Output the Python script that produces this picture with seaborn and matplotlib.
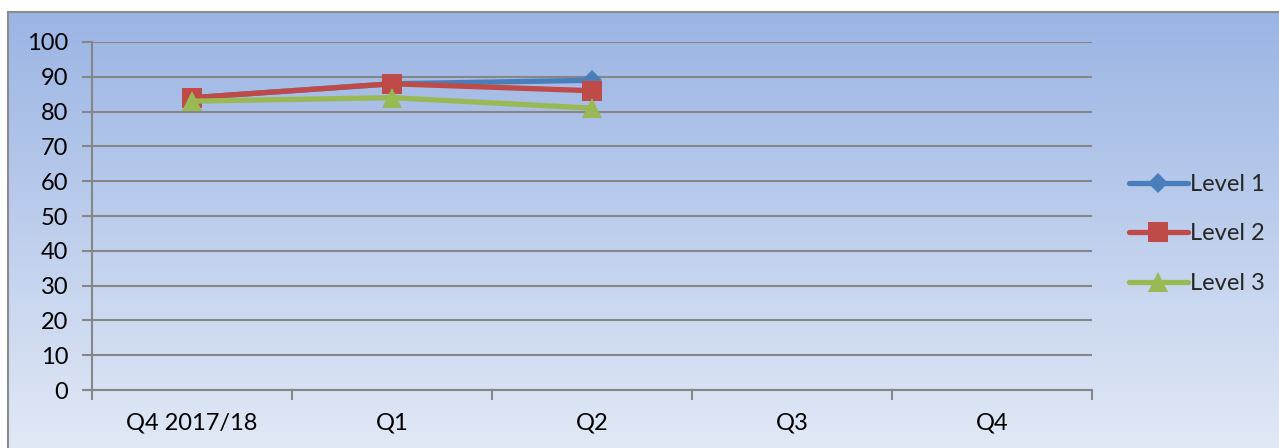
import numpy as np
import pandas as pd
import matplotlib
matplotlib.use("Agg")
import matplotlib.pyplot as plt
import seaborn as sns
from matplotlib.ticker import FixedLocator
from matplotlib.lines import Line2D

categories = ["Q4 2017/18", "Q1", "Q2", "Q3", "Q4"]
level1 = [84, 88, 89]
level2 = [84, 88, 86]
level3 = [83, 84, 81]
series_names = ["Level 1", "Level 2", "Level 3"]
y_ticks = [0, 10, 20, 30, 40, 50, 60, 70, 80, 90, 100]

rows = []
for name, vals in zip(series_names, [level1, level2, level3]):
    for i, v in enumerate(vals):
        rows.append({"Quarter": i, "Value": v, "Series": name})
df = pd.DataFrame(rows)

sns.set_theme(style="white")
plt.rcParams["font.family"] = ["Lato", "DejaVu Sans"]

W, H = 1279, 448
FS = 17
fig = plt.figure(figsize=(W / 100, H / 100), dpi=100)
fig.patch.set_facecolor("white")

# background frame with gradient (extends past right & bottom edges)
bg = fig.add_axes([8 / W, -3 / H, 1 - 8 / W + 3 / W, 1 - 12 / H + 3 / H])
grad = np.linspace(0, 1, 256).reshape(-1, 1)
top = np.array([0x9A, 0xB4, 0xE3]) / 255
bot = np.array([0xE2, 0xE9, 0xF6]) / 255
img = top + (bot - top) * grad[:, :, None]
bg.imshow(img, aspect="auto", extent=[0, 1, 0, 1])
bg.set_xlim(0, 1)
bg.set_ylim(0, 1)
bg.set_xticks([])
bg.set_yticks([])
for s in bg.spines.values():
    s.set_color("#8c8c8c")
    s.set_linewidth(1.5)
bg.set_zorder(0)

ax = fig.add_axes([92 / W, 1 - 390 / H, 1000 / W, (390 - 42) / H])
ax.set_zorder(1)
ax.patch.set_alpha(0)

palette = {"Level 1": "#4A7EBB", "Level 2": "#BE4B48", "Level 3": "#98B954"}
markers = {"Level 1": "D", "Level 2": "s", "Level 3": "^"}
msizes = {"D": 10, "s": 14, "^": 15}
sns.lineplot(data=df, x="Quarter", y="Value", hue="Series", style="Series",
             palette=palette, markers=markers, dashes=False, linewidth=3.8,
             markersize=13, markeredgewidth=0, ax=ax, legend=False, zorder=3)
for line in ax.lines:
    m = line.get_marker()
    if m in msizes:
        line.set_markersize(msizes[m])

ax.set_xlim(-0.5, 4.5)
ax.set_ylim(0, 100)
ax.set_yticks(y_ticks)
ax.set_yticklabels([str(t) for t in y_ticks])
ax.yaxis.grid(True, color="#868686", linewidth=1.5)
ax.set_axisbelow(True)

ax.xaxis.set_major_locator(FixedLocator(np.arange(-0.5, 5.0, 1.0)))
ax.set_xticklabels([])
ax.xaxis.set_minor_locator(FixedLocator(np.arange(len(categories))))
ax.set_xticklabels(categories, minor=True)
ax.tick_params(axis="x", which="major", length=7, width=1.5, color="#868686", direction="out", bottom=True)
ax.tick_params(axis="x", which="minor", length=0, labelsize=FS, pad=16, labelcolor="black")
ax.tick_params(axis="y", length=7, width=1.5, color="#868686", direction="out", left=True,
               labelsize=FS, pad=10, labelcolor="black")
ax.set_xlabel("")
ax.set_ylabel("")
for s in ["top", "right"]:
    ax.spines[s].set_visible(False)
for s in ["left", "bottom"]:
    ax.spines[s].set_color("#868686")
    ax.spines[s].set_linewidth(1.5)

handles = [Line2D([], [], color=palette[n], marker=markers[n], linewidth=3.8,
                  markersize=msizes[markers[n]], markeredgewidth=0)
           for n in series_names]
fig.legend(handles, series_names, loc="center left", bbox_to_anchor=(1124 / W, 1 - 234 / H),
           frameon=False, fontsize=FS, handlelength=2.5, labelspacing=1.2, handletextpad=0.1,
           borderaxespad=0, borderpad=0.2)

fig.savefig("out.png", dpi=100)
